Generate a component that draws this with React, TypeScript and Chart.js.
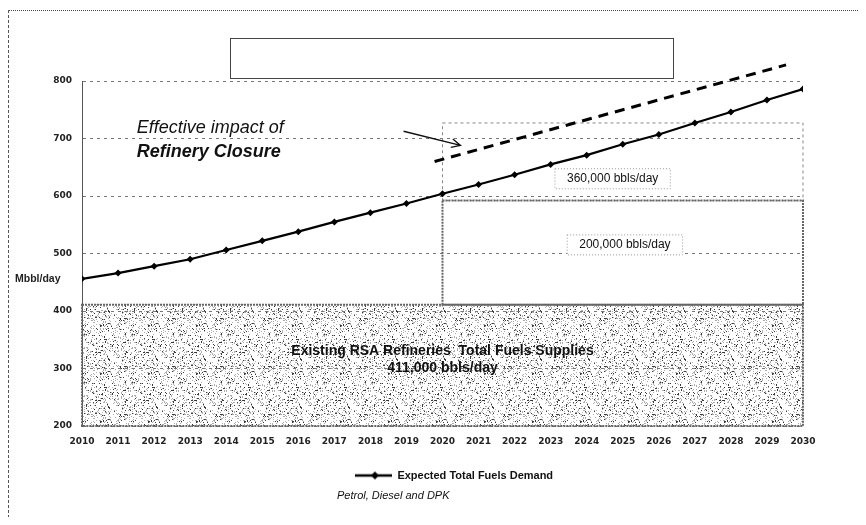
import React, { useEffect, useRef } from "react";
import { Chart, registerables } from "chart.js";
Chart.register(...registerables);

const years = [2010, 2011, 2012, 2013, 2014, 2015, 2016, 2017, 2018, 2019, 2020, 2021, 2022, 2023, 2024, 2025, 2026, 2027, 2028, 2029, 2030];
const yearLabels = ["2010", "2011", "2012", "2013", "2014", "2015", "2016", "2017", "2018", "2019", "2020", "2021", "2022", "2023", "2024", "2025", "2026", "2027", "2028", "2029", "2030"];
const demand = [456, 466, 478, 490, 506, 522, 538, 555, 571, 587, 604, 620, 637, 655, 671, 690, 707, 727, 746, 767, 786];
const closureYears = [2019.78, 2029.53];
const closureValues = [660, 828];
const yTickValues = [200, 300, 400, 500, 600, 700, 800];

// [x0, x1, y0, y1] in data units
const supplyRange = [2010, 2030, 200, 411];
const closureLower = [2020, 2030, 411, 592];
const closureUpper = [2020, 2030, 592, 727];

const boxLabels = ["360,000 bbls/day", "200,000 bbls/day"];
const boxLabelX = [2024.72, 2025.06];
const boxLabelY = [630, 515];

const supplyText = ["Existing RSA Refineries  Total Fuels Supplies", "411,000 bbls/day"];
const supplyTextX = [2020, 2020];
const supplyTextY = [330, 300];

const impactText = ["Effective impact of", "Refinery Closure"];
const impactX = [2011.52, 2011.52];
const impactY = [718, 676];
const arrowX = [2018.92, 2020.5];
const arrowY = [712.6, 688];

const unitLabel = "Mbbl/day";
const unitLabelY = 456;
const legendLabel = "Expected Total Fuels Demand";
const subtitleText = "Petrol, Diesel and DPK";

function makePattern(ctx: CanvasRenderingContext2D) {
  const n = 48;
  const c = document.createElement("canvas");
  c.width = n;
  c.height = n;
  const g = c.getContext("2d")!;
  g.fillStyle = "#ffffff";
  g.fillRect(0, 0, n, n);
  for (let y = 0; y < n; y++) {
    for (let x = 0; x < n; x++) {
      let h = (Math.imul(x + 1, 73856093) ^ Math.imul(y + 7, 19349663)) >>> 0;
      h = (Math.imul(h ^ (h >>> 13), 1274126177) >>> 0) % 100;
      if (h < 6) {
        g.fillStyle = "#3a3a3a";
        g.fillRect(x, y, 1, 1);
      } else if (h < 20) {
        g.fillStyle = "#adadad";
        g.fillRect(x, y, 1, 1);
      }
    }
  }
  return ctx.createPattern(c, "repeat");
}

function makeLegendImage() {
  const c = document.createElement("canvas");
  c.width = 60;
  c.height = 10;
  const g = c.getContext("2d")!;
  g.strokeStyle = "#000";
  g.lineWidth = 2.5;
  g.beginPath();
  g.moveTo(23, 5);
  g.lineTo(60, 5);
  g.stroke();
  g.fillStyle = "#000";
  g.beginPath();
  g.moveTo(43, 1);
  g.lineTo(47, 5);
  g.lineTo(43, 9);
  g.lineTo(39, 5);
  g.closePath();
  g.fill();
  return c;
}

export default function App() {
  const ref = useRef<HTMLCanvasElement | null>(null);

  useEffect(() => {
    const canvas = ref.current!;
    const ctx0 = canvas.getContext("2d")!;
    const pattern = makePattern(ctx0);
    const legendImg = makeLegendImage();

    const overlay = {
      id: "overlay",
      beforeDraw(chart: any) {
        const { ctx, scales } = chart;
        const x = scales.x, y = scales.y;
        if (!x || !y) return;
        const px = (v: number) => x.getPixelForValue(v);
        const py = (v: number) => y.getPixelForValue(v);
        const [x0, x1, y0, y1] = supplyRange;
        ctx.save();
        ctx.fillStyle = pattern;
        ctx.fillRect(px(x0), py(y1), px(x1) - px(x0), py(y0) - py(y1));
        ctx.restore();
      },
      beforeDatasetsDraw(chart: any) {
        const { ctx, scales } = chart;
        const x = scales.x, y = scales.y;
        const px = (v: number) => x.getPixelForValue(v);
        const py = (v: number) => y.getPixelForValue(v);
        ctx.save();
        {
          const [x0, x1, y0, y1] = supplyRange;
          ctx.strokeStyle = "#666";
          ctx.lineWidth = 2;
          ctx.setLineDash([2, 1]);
          ctx.strokeRect(px(x0), py(y1), px(x1) - px(x0), py(y0) - py(y1));
        }
        {
          const [x0, x1, y0, y1] = closureUpper;
          ctx.strokeStyle = "#888";
          ctx.lineWidth = 1;
          ctx.setLineDash([3, 3]);
          ctx.strokeRect(px(x0), py(y1), px(x1) - px(x0), py(y0) - py(y1));
        }
        {
          const [x0, x1, y0, y1] = closureLower;
          ctx.strokeStyle = "#666";
          ctx.lineWidth = 2;
          ctx.setLineDash([2, 1]);
          ctx.strokeRect(px(x0), py(y1), px(x1) - px(x0), py(y0) - py(y1));
        }
        ctx.restore();
      },
      afterDatasetsDraw(chart: any) {
        const { ctx, scales, chartArea } = chart;
        const x = scales.x, y = scales.y;
        const px = (v: number) => x.getPixelForValue(v);
        const py = (v: number) => y.getPixelForValue(v);
        ctx.save();
        ctx.font = "12px 'Liberation Sans', Arial, sans-serif";
        ctx.textAlign = "center";
        ctx.textBaseline = "middle";
        boxLabels.forEach((t, i) => {
          const cx = px(boxLabelX[i]);
          const cy = py(boxLabelY[i]);
          const w = ctx.measureText(t).width + 24;
          const h = 20;
          ctx.fillStyle = "#fff";
          ctx.fillRect(cx - w / 2, cy - h / 2, w, h);
          ctx.strokeStyle = "#999";
          ctx.lineWidth = 1;
          ctx.setLineDash([1, 2]);
          ctx.strokeRect(cx - w / 2, cy - h / 2, w, h);
          ctx.setLineDash([]);
          ctx.fillStyle = "#111";
          ctx.fillText(t, cx, cy);
        });
        ctx.font = "bold 14px 'Liberation Sans', Arial, sans-serif";
        ctx.fillStyle = "#111";
        supplyText.forEach((t, i) => {
          ctx.fillText(t, px(supplyTextX[i]), py(supplyTextY[i]));
        });
        ctx.textAlign = "left";
        ctx.font = "italic 18px 'Liberation Sans', Arial, sans-serif";
        ctx.fillText(impactText[0], px(impactX[0]), py(impactY[0]));
        ctx.font = "italic bold 18px 'Liberation Sans', Arial, sans-serif";
        ctx.fillText(impactText[1], px(impactX[1]), py(impactY[1]));
        const ax0 = px(arrowX[0]), ay0 = py(arrowY[0]);
        const ax1 = px(arrowX[1]), ay1 = py(arrowY[1]);
        ctx.strokeStyle = "#111";
        ctx.lineWidth = 1.3;
        ctx.beginPath();
        ctx.moveTo(ax0, ay0);
        ctx.lineTo(ax1, ay1);
        const ang = Math.atan2(ay1 - ay0, ax1 - ax0);
        const hl = 10;
        ctx.moveTo(ax1 - hl * Math.cos(ang - 0.45), ay1 - hl * Math.sin(ang - 0.45));
        ctx.lineTo(ax1, ay1);
        ctx.lineTo(ax1 - hl * Math.cos(ang + 0.45), ay1 - hl * Math.sin(ang + 0.45));
        ctx.stroke();
        ctx.font = "bold 10.5px 'Liberation Sans', Arial, sans-serif";
        ctx.fillStyle = "#222";
        ctx.textAlign = "left";
        ctx.fillText(unitLabel, chartArea.left - 67, py(unitLabelY));
        ctx.font = "italic 11px 'Liberation Sans', Arial, sans-serif";
        ctx.fillStyle = "#111";
        ctx.fillText(subtitleText, chartArea.left + 255, chartArea.bottom + 70);
        ctx.restore();
      },
    };

    const chart = new Chart(canvas, {
      type: "line",
      data: {
        datasets: [
          {
            label: legendLabel,
            data: years.map((yr, i) => ({ x: yr, y: demand[i] })),
            borderColor: "#000",
            backgroundColor: "#000",
            borderWidth: 2.2,
            pointStyle: "rectRot",
            pointRadius: 3.5,
            pointBorderWidth: 0,
            tension: 0,
          },
          {
            label: "closure",
            data: closureYears.map((yr, i) => ({ x: yr, y: closureValues[i] })),
            borderColor: "#000",
            borderWidth: 3,
            borderDash: [10, 7],
            pointRadius: 0,
            clip: false as any,
          },
        ],
      },
      options: {
        animation: false,
        responsive: true,
        maintainAspectRatio: false,
        layout: { padding: { top: 73, right: 55, left: 0, bottom: 26 } },
        plugins: {
          tooltip: { enabled: false },
          title: { display: false },
          legend: {
            display: true,
            position: "bottom",
            fullSize: false,
            labels: {
              filter: (item: any) => item.datasetIndex === 0,
              usePointStyle: true,
              pointStyle: legendImg as any,
              pointStyleWidth: 60,
              color: "#111",
              padding: 10,
              font: { family: "'Liberation Sans', Arial, sans-serif", size: 11, weight: "bold" },
            },
          },
        },
        scales: {
          x: {
            type: "linear",
            min: 2010,
            max: 2030,
            afterFit: (s: any) => { s.height = 34; },
            grid: { display: false, drawTicks: false },
            border: { display: false },
            ticks: {
              stepSize: 1,
              maxRotation: 0,
              autoSkip: false,
              padding: 10,
              color: "#222",
              font: { family: "'DejaVu Sans', sans-serif", size: 9, weight: "bold" },
              callback: (v: any) => {
                const i = years.indexOf(Number(v));
                return i >= 0 ? yearLabels[i] : "";
              },
            },
          },
          y: {
            min: yTickValues[0],
            max: yTickValues[yTickValues.length - 1],
            afterFit: (s: any) => { s.width = 74; },
            grid: { color: "#777", lineWidth: 1, drawTicks: false },
            border: { display: true, color: "#555", width: 1, dash: [3, 4] },
            ticks: {
              stepSize: 100,
              padding: 10,
              color: "#222",
              font: { family: "'DejaVu Sans', sans-serif", size: 9, weight: "bold" },
              callback: (v: any) => (yTickValues.includes(Number(v)) ? String(v) : ""),
            },
          },
        },
      },
      plugins: [overlay],
    });
    return () => chart.destroy();
  }, []);

  return (
    <div style={{ position: "relative", width: 850, height: 509 }}>
      <canvas ref={ref} />
      <div
        style={{
          position: "absolute",
          left: 0,
          top: 2,
          width: 856,
          height: 513,
          boxSizing: "border-box",
          borderTop: "1px dotted #444",
          borderLeft: "1px dashed #555",
          pointerEvents: "none",
        }}
      />
      <div
        style={{
          position: "absolute",
          left: 222,
          top: 30,
          width: 444,
          height: 41,
          boxSizing: "border-box",
          border: "1.5px solid #444",
          pointerEvents: "none",
        }}
      />
    </div>
  );
}
